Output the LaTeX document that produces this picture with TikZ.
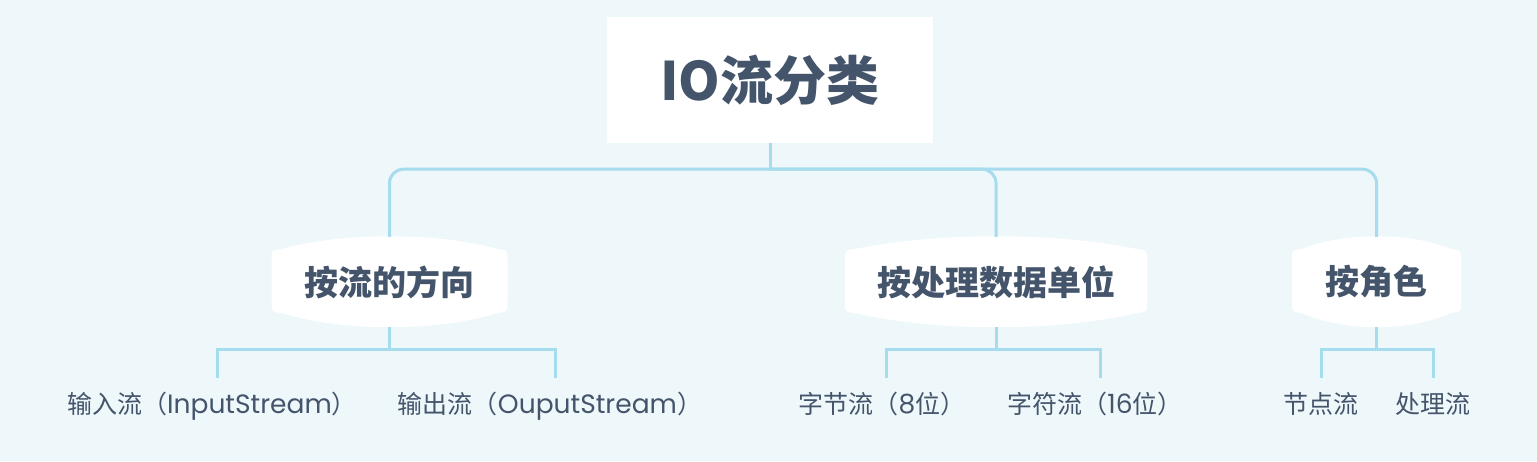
\documentclass[tikz,border=0pt]{standalone}
\usepackage{fontspec}
\newfontfamily\cjk{Noto Sans CJK SC}
\newfontfamily\lat{Poppins}
\usetikzlibrary{backgrounds}
\definecolor{bgc}{HTML}{EEF7FA}
\definecolor{txt}{HTML}{44546B}
\definecolor{lnc}{HTML}{A6DCEE}
\newcommand\lt[1]{{\lat\fontsize{26.5}{30}\selectfont #1}}
\tikzset{
  conn/.style={draw=lnc, line width=3pt},
  titlebox/.style={fill=white, minimum width=326pt, minimum height=126pt, inner sep=0pt,
    font=\cjk\bfseries\fontsize{53}{60}\selectfont, text=txt},
  catbox/.style={minimum height=90pt, inner sep=0pt,
    font=\cjk\bfseries\fontsize{34}{38}\selectfont, text=txt},
  leaf/.style={anchor=base, inner sep=0pt, text height=35pt, text depth=4pt,
    font=\cjk\fontsize{25}{30}\selectfont, text=txt}
}
% bulged white shape: #1 center x, #2 half width
\newcommand\bulgeshape[2]{%
  \fill[white] ({#1-#2},302) -- ({#1-#2},260)
    .. controls ({#1-#2},250) .. ({#1-#2+10},249)
    .. controls ({#1-0.4*#2},232) and ({#1+0.4*#2},232) .. ({#1+#2-10},249)
    .. controls ({#1+#2},250) .. ({#1+#2},260)
    -- ({#1+#2},302)
    .. controls ({#1+#2},312) .. ({#1+#2-10},313)
    .. controls ({#1+0.4*#2},332) and ({#1-0.4*#2},332) .. ({#1-#2+10},313)
    .. controls ({#1-#2},312) .. ({#1-#2},302) -- cycle;}
\begin{document}
\begin{tikzpicture}[x=1pt,y=-1pt]
\useasboundingbox (0,0) rectangle (1537,461);

\node[titlebox] (t) at (770,80) {IO流分类};

\node[catbox, minimum width=236pt] (a) at (389.5,282) {按流的方向};
\node[catbox, minimum width=302pt] (b) at (996,282) {按处理数据单位};
\node[catbox, minimum width=169pt] (c) at (1376.5,282) {按角色};

\node[leaf] (a1) at (212,413) {输入流（\lt{InputStream}）};
\node[leaf] (a2) at (550,413) {输出流（\lt{OuputStream}）};
\node[leaf] (b1) at (882,413) {字节流（\lt{8}位）};
\node[leaf] (b2) at (1095,413) {字符流（\lt{16}位）};
\node[leaf] (c1) at (1321,413) {节点流};
\node[leaf] (c2) at (1433,413) {处理流};

\begin{scope}[on background layer]
  \fill[bgc] (0,0) rectangle (1537,461);
  \bulgeshape{389.5}{118}
  \bulgeshape{996}{151}
  \bulgeshape{1376.5}{84.5}
  \draw[conn] (t.south) -- ++(0,26) coordinate (j);
  \draw[conn, rounded corners=14pt] (j) -| (a.north);
  \draw[conn, rounded corners=14pt] (j) -| (b.north);
  \draw[conn, rounded corners=14pt] (j) -| (c.north);
  \draw[conn] (a.south) -- ++(0,22) coordinate (ja);
  \draw[conn] (ja) -| ([xshift=5pt]a1.north);
  \draw[conn] (ja) -| ([xshift=5pt]a2.north);
  \draw[conn] (b.south) -- ++(0,22) coordinate (jb);
  \draw[conn] (jb) -| ([xshift=4pt]b1.north);
  \draw[conn] (jb) -| ([xshift=5pt]b2.north);
  \draw[conn] (c.south) -- ++(0,22) coordinate (jc);
  \draw[conn] (jc) -| (c1.north);
  \draw[conn] (jc) -| (c2.north);
\end{scope}
\end{tikzpicture}
\end{document}
